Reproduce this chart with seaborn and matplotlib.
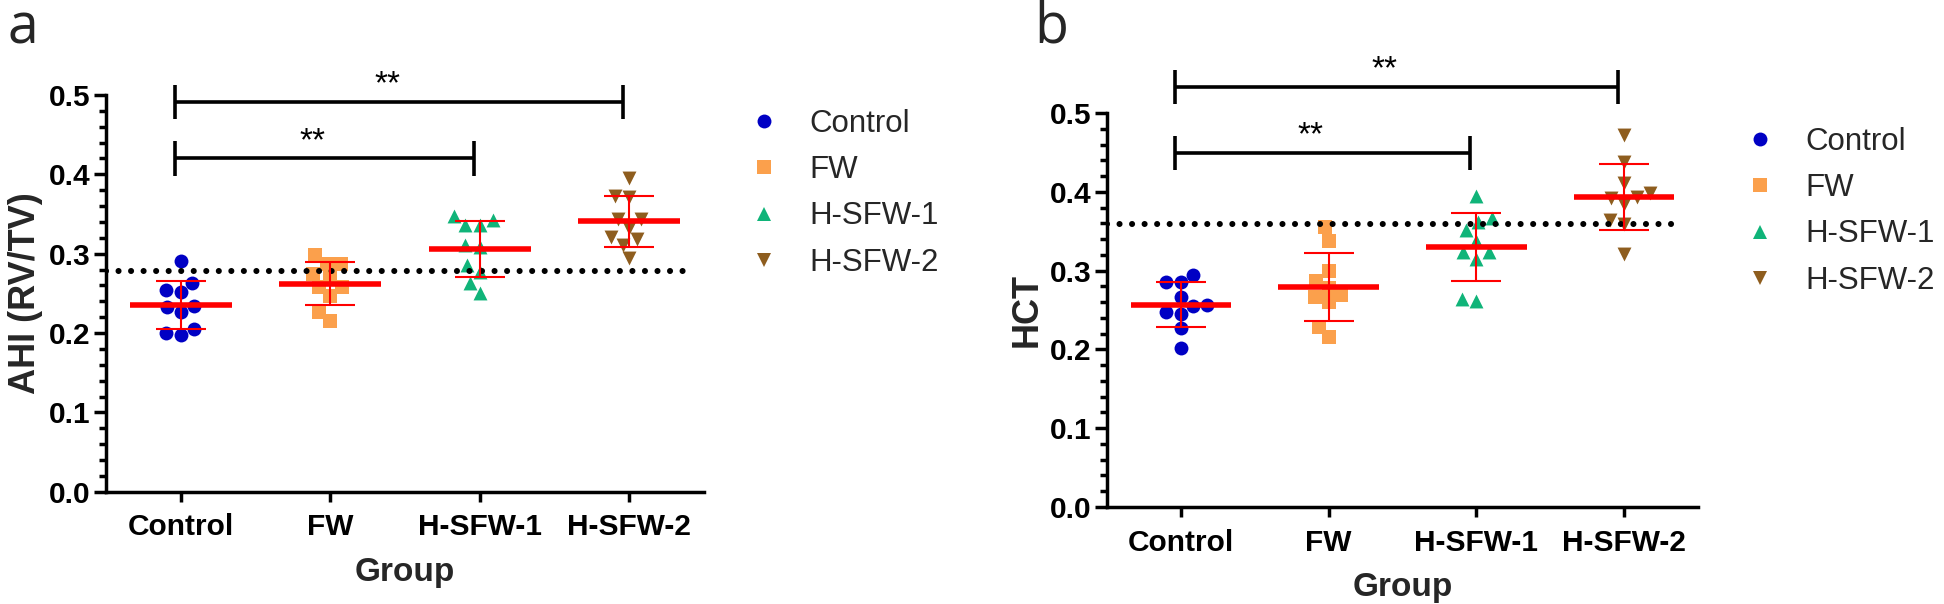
import numpy as np
import matplotlib
matplotlib.use("Agg")
import matplotlib.pyplot as plt
from matplotlib.lines import Line2D
from matplotlib.ticker import MultipleLocator, FormatStrFormatter
import seaborn as sns

# ---------------- data ----------------
groups = ["Control", "FW", "H-SFW-1", "H-SFW-2"]
colors = ["#0000c4", "#fba04c", "#10b479", "#8e5d1e"]
markers = ["o", "s", "^", "v"]

# panel a : AHI (RV/TV)
ahi_control = [0.291, 0.263, 0.252, 0.254, 0.233, 0.227, 0.234, 0.205, 0.198, 0.200]
ahi_fw      = [0.298, 0.287, 0.287, 0.274, 0.270, 0.258, 0.258, 0.247, 0.226, 0.215]
ahi_hsfw1   = [0.348, 0.336, 0.336, 0.343, 0.309, 0.311, 0.286, 0.277, 0.263, 0.250]
ahi_hsfw2   = [0.396, 0.373, 0.371, 0.344, 0.344, 0.333, 0.321, 0.318, 0.311, 0.295]
ahi_ref = 0.278
ahi_sig = [(0, 2, 0.420), (0, 3, 0.491)]   # (from group, to group, bar height)

# panel b : HCT
hct_control = [0.295, 0.286, 0.286, 0.267, 0.255, 0.256, 0.245, 0.247, 0.227, 0.202]
hct_fw      = [0.355, 0.338, 0.299, 0.287, 0.278, 0.269, 0.266, 0.260, 0.229, 0.216]
hct_hsfw1   = [0.395, 0.367, 0.362, 0.351, 0.338, 0.323, 0.324, 0.315, 0.262, 0.264]
hct_hsfw2   = [0.472, 0.438, 0.411, 0.399, 0.392, 0.393, 0.384, 0.364, 0.359, 0.321]
hct_ref = 0.359
hct_sig = [(0, 2, 0.449), (0, 3, 0.533)]

# ---------------- style ----------------
sns.set_theme(style="ticks")
plt.rcParams["font.family"] = ["Liberation Sans", "DejaVu Sans"]
plt.rcParams["axes.linewidth"] = 2.5

fig = plt.figure(figsize=(19.44, 6.04), dpi=100)
ax_a = fig.add_axes([0.0545, 0.1859, 0.3076, 0.6568])
ax_b = fig.add_axes([0.5694, 0.1606, 0.3040, 0.6523])


def draw_panel(ax, series, ylabel, ref, sig, letter, legend_xy):
    for grp, vals, c, m in zip(groups, series, colors, markers):
        sns.swarmplot(x=[grp] * len(vals), y=vals, order=groups, color=c,
                      marker=m, size=10, linewidth=0, ax=ax, zorder=2)

    pos = np.arange(len(groups))
    means = np.array([np.mean(v) for v in series])
    sds = np.array([np.std(v, ddof=1) for v in series])

    # mean line + SD error bars
    ax.hlines(means, pos - 0.34, pos + 0.34, color="red", lw=4, zorder=5)
    ax.errorbar(pos, means, yerr=sds, fmt="none", ecolor="red",
                elinewidth=1.5, capsize=18, capthick=1.5, zorder=4)

    # dotted reference line
    ax.axhline(ref, xmin=0, xmax=0.97, color="black", lw=4.4,
               linestyle=(0, (0.001, 2.05)), dash_capstyle="round", zorder=3)

    # significance brackets
    for g0, g1, h in sig:
        x0, x1 = g0 - 0.04, g1 - 0.04
        kw = dict(color="black", lw=2.6, clip_on=False, solid_capstyle="butt")
        ax.plot([x0, x1], [h, h], **kw)
        ax.plot([x0, x0], [h - 0.0215, h + 0.0215], **kw)
        ax.plot([x1, x1], [h - 0.0215, h + 0.0215], **kw)
        ax.text((x0 + x1) / 2 - 0.08, h + 0.002, "**", ha="center", va="bottom",
                fontsize=24, color="black")

    ax.set_xlim(-0.5, 3.5)
    ax.set_ylim(0, 0.5)
    ax.set_xticks(pos)
    ax.set_xticklabels(groups, fontsize=21.5, fontweight="bold")
    ax.yaxis.set_major_locator(MultipleLocator(0.1))
    ax.yaxis.set_minor_locator(MultipleLocator(0.02))
    ax.yaxis.set_major_formatter(FormatStrFormatter("%.1f"))
    for t in ax.get_yticklabels():
        t.set_fontsize(21.5)
        t.set_fontweight("bold")
    ax.tick_params(axis="y", which="major", length=9, width=2.5, pad=2, colors="black")
    ax.tick_params(axis="y", which="minor", length=5, width=2.5, colors="black")
    ax.tick_params(axis="x", which="major", length=7.5, width=2.5, pad=8, colors="black")
    ax.set_xlabel("Group", fontsize=24, fontweight="bold", labelpad=11)
    ax.set_ylabel(ylabel, fontsize=26, fontweight="bold", labelpad=4)
    sns.despine(ax=ax)
    for s in ["left", "bottom"]:
        ax.spines[s].set_color("black")

    handles = [Line2D([], [], linestyle="none", marker=m, color=c, markersize=10,
                      markeredgewidth=0) for c, m in zip(colors, markers)]
    fig.legend(handles, groups, loc="upper left", bbox_to_anchor=legend_xy,
               frameon=False, fontsize=22.5, handlelength=1.0, handletextpad=0.95,
               labelspacing=0.52, borderpad=0, borderaxespad=0)

    fig.text(*letter[1], letter[0], fontsize=40, family=["Open Sans", "DejaVu Sans"],
             ha="left", va="baseline")


draw_panel(ax_a, [ahi_control, ahi_fw, ahi_hsfw1, ahi_hsfw2], "AHI (RV/TV)",
           ahi_ref, ahi_sig, ("a", (0.004, 1 - 44 / 604)), (748 / 1944, 1 - 109 / 604))
draw_panel(ax_b, [hct_control, hct_fw, hct_hsfw1, hct_hsfw2], "HCT",
           hct_ref, hct_sig, ("b", (0.532, 1 - 44 / 604)), (1744 / 1944, 1 - 127 / 604))

fig.savefig("out.png", dpi=100)
